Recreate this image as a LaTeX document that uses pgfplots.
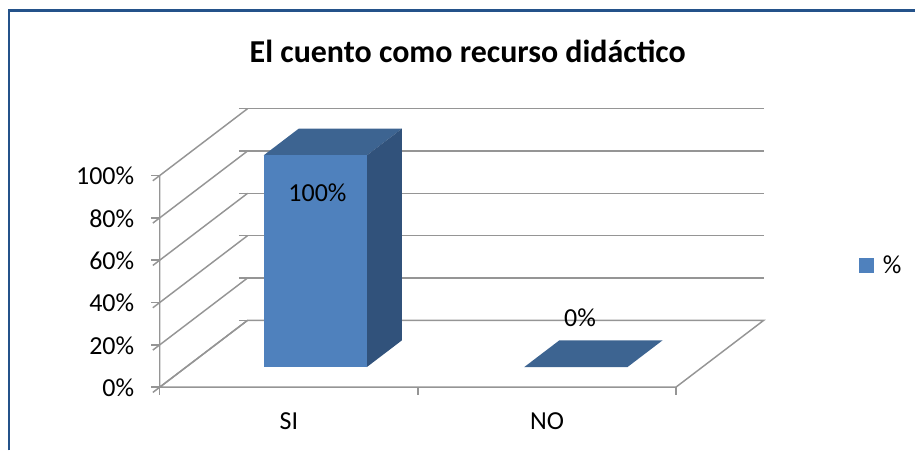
\documentclass[border=0pt]{standalone}
\usepackage{fontspec}
\setmainfont{Carlito}
\usepackage{pgfplots}
\pgfplotsset{compat=1.18}
\definecolor{barfront}{HTML}{4F81BD}
\definecolor{barside}{HTML}{31527B}
\definecolor{bartop}{HTML}{3D6491}
\definecolor{gridc}{HTML}{959595}
\definecolor{framec}{HTML}{24528A}
\begin{document}
\begin{tikzpicture}[x=0.75pt,y=0.75pt]
\path (0,0) rectangle (916,451);
\draw[framec,line width=2.2pt] (9,0) -- (9,440.5) -- (916,440.5);
\begin{axis}[
  anchor=origin, at={(120pt,47.4pt)},
  x={(193.875pt,0pt)}, y={(66pt,50.25pt)}, z={(0pt,1.59pt)},
  xmin=0,xmax=2,ymin=0,ymax=1,zmin=0,zmax=100,
  clip=false,
  axis line style={draw=none},
  xtick={0.5,1.5}, xticklabels={SI,NO},
  ytick=\empty,
  ztick={0,20,40,60,80,100},
  zticklabel={\pgfmathprintnumber{\tick}\%},
  /pgf/number format/assume math mode=true,
  tick align=outside,
  major tick length=6.5pt,
  tick style={gridc,line width=1.1pt},
  major x tick style={draw=none},
  zmajorgrids=true,
  major z grid style={gridc,line width=1.1pt},
  xtick pos=left, ztick pos=left,
  tick label style={font=\fontsize{19.5}{21}\selectfont,text=black},
  xticklabel style={anchor=center,xshift=5.25pt,yshift=-21.75pt},
  zticklabel style={anchor=east,xshift=-10.5pt,yshift=3.4pt},
  title={\fontsize{24}{26}\selectfont\bfseries El cuento como recurso didáctico},
  title style={at={(axis description cs:0.510,1.1785)},anchor=center},
  legend style={at={(axis description cs:1.157,0.437)},anchor=west,draw=none,fill=none,inner sep=0pt,
    font=\fontsize{19.5}{21}\selectfont},
  legend image code/.code={%
    \path[draw=none,fill=none] (0pt,-6pt) rectangle (16pt,6pt);
    \fill[barfront,draw=none] (0pt,-5.6pt) -- (11.2pt,-5.6pt) -- (11.2pt,5.6pt) -- (0pt,5.6pt) -- cycle;},
]
\addlegendimage{barfront}
\addlegendentry{\%}
% floor outline and category ticks
\addplot3[gridc,line width=1.1pt,no marks,forget plot] coordinates {(0,0,100)(0,0,0)(2,0,0)(2,1,0)(0,1,0)(0,0,0)};
\addplot3[gridc,line width=1.1pt,no marks,forget plot] coordinates {(0,0,0)(0,0,-3.8)};
\addplot3[gridc,line width=1.1pt,no marks,forget plot] coordinates {(1,0,0)(1,0,-3.8)};
\addplot3[gridc,line width=1.1pt,no marks,forget plot] coordinates {(2,0,0)(2,0,-3.8)};
% SI bar
\addplot3[fill=bartop,draw=none,no marks,forget plot] coordinates {(0.3,0.3,100)(0.7,0.3,100)(0.7,0.7,100)(0.3,0.7,100)} --cycle;
\addplot3[fill=barside,draw=none,no marks,forget plot] coordinates {(0.7,0.3,0)(0.7,0.7,0)(0.7,0.7,100)(0.7,0.3,100)} --cycle;
\addplot3[fill=barfront,draw=none,no marks,forget plot] coordinates {(0.3,0.3,0)(0.7,0.3,0)(0.7,0.3,100)(0.3,0.3,100)} --cycle;
% NO bar
\addplot3[fill=bartop,draw=none,no marks,forget plot] coordinates {(1.31,0.3,0)(1.71,0.3,0)(1.71,0.7,0)(1.31,0.7,0)} --cycle;
\node[font=\fontsize{19.5}{21}\selectfont] at (axis cs:0.509,0.3,82.5) {100\%};
\node[font=\fontsize{19.5}{21}\selectfont] at (axis cs:1.458,0.5,16.8) {0\%};
\end{axis}
\end{tikzpicture}
\end{document}
